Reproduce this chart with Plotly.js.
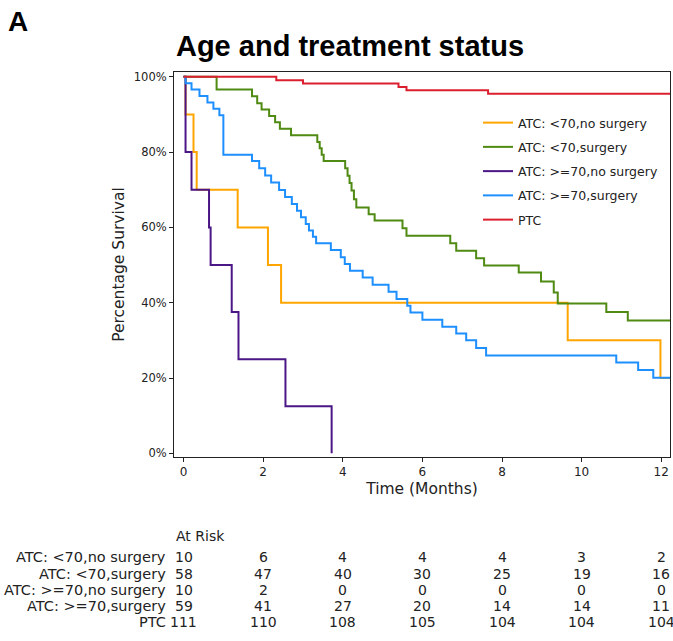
<!DOCTYPE html>
<html>
<head>
<meta charset="utf-8">
<script src="https://cdn.plot.ly/plotly-3.0.1.min.js"></script>
<style>
  html, body { margin: 0; padding: 0; background: #fff; }
  #chart { width: 673px; height: 641px; }
</style>
</head>
<body>
<div id="chart"></div>
<script>
// Kaplan-Meier survival by age and treatment status (months, % surviving)
const groupNames = [
  "ATC: <70,no surgery",
  "ATC: <70,surgery",
  "ATC: >=70,no surgery",
  "ATC: >=70,surgery",
  "PTC"
];
const groupColors = ["#FFA500", "#4F8A12", "#4B1787", "#1E8FFF", "#DC1F2E"];

const timeLt70NoSurg = [0, 0.05, 0.25, 0.33, 1.36, 2.12, 2.45, 9.65, 11.98, 12.5];
const survLt70NoSurg = [100, 90, 80, 70, 60, 50, 40, 30, 20, 20];

const timeLt70Surg = [0, 0.83, 1.72, 1.85, 1.96, 2.15, 2.3, 2.42, 2.7, 3.36, 3.42, 3.47, 3.52,
  4.06, 4.12, 4.17, 4.22, 4.28, 4.34, 4.65, 4.8, 5.5, 5.6, 6.7, 6.85, 7.35, 7.55,
  8.42, 8.98, 9.3, 9.4, 10.62, 11.16, 12.5];
const survLt70Surg = [100, 96.6, 94.8, 93.0, 91.3, 89.6, 87.9, 86.2, 84.5, 82.7, 81.0, 79.3, 77.6,
  75.7, 73.7, 71.8, 69.8, 67.5, 65.3, 63.5, 61.8, 59.8, 57.8, 55.8, 53.8, 51.8, 49.9,
  48.0, 45.6, 42.7, 39.8, 37.5, 35.3, 35.3];

const timeGe70NoSurg = [0, 0.05, 0.2, 0.64, 0.68, 1.21, 1.38, 2.56, 3.72];
const survGe70NoSurg = [100, 80, 70, 60, 50, 37.5, 25, 12.5, 0];

const timeGe70Surg = [0, 0.05, 0.2, 0.4, 0.6, 0.75, 0.9, 1.0, 1.72, 1.9, 2.05, 2.2, 2.4, 2.55,
  2.72, 2.85, 2.95, 3.07, 3.15, 3.25, 3.33, 3.7, 3.95, 4.05, 4.18, 4.5, 4.75, 5.15,
  5.35, 5.62, 5.7, 6.0, 6.5, 6.85, 7.1, 7.35, 7.6, 10.87, 11.42, 11.8, 12.5];
const survGe70Surg = [100, 98.3, 96.6, 94.9, 93.2, 91.5, 89.8, 79.3, 77.6, 75.7, 73.8, 71.9, 69.9, 68.1,
  66.2, 64.4, 62.7, 60.9, 59.2, 57.5, 55.8, 54.0, 52.1, 50.3, 48.5, 46.7, 44.8, 42.9,
  41.0, 39.2, 37.4, 35.5, 33.6, 31.8, 30.0, 28.0, 26.0, 24.1, 22.1, 20.1, 20.1];

const timePTC = [0, 2.33, 3.0, 5.4, 5.6, 7.65, 12.5];
const survPTC = [100, 99.1, 98.2, 97.3, 96.4, 95.5, 95.5];

// Numbers at risk at each tick month
const riskMonths = [0, 2, 4, 6, 8, 10, 12];
const riskLt70NoSurg = [10, 6, 4, 4, 4, 3, 2];
const riskLt70Surg = [58, 47, 40, 30, 25, 19, 16];
const riskGe70NoSurg = [10, 2, 0, 0, 0, 0, 0];
const riskGe70Surg = [59, 41, 27, 20, 14, 14, 11];
const riskPTC = [111, 110, 108, 105, 104, 104, 104];

const xTicks = [0, 2, 4, 6, 8, 10, 12];
const yTicks = [0, 20, 40, 60, 80, 100];
const yTickLabels = ["0%", "20%", "40%", "60%", "80%", "100%"];

const series = [
  [timeLt70NoSurg, survLt70NoSurg],
  [timeLt70Surg, survLt70Surg],
  [timeGe70NoSurg, survGe70NoSurg],
  [timeGe70Surg, survGe70Surg],
  [timePTC, survPTC]
];
const riskRows = [riskLt70NoSurg, riskLt70Surg, riskGe70NoSurg, riskGe70Surg, riskPTC];

const FONT = "DejaVu Sans, Verdana, sans-serif";
const INK = "#222";

const traces = series.map((s, i) => ({
  type: "scatter",
  mode: "lines",
  x: s[0],
  y: s[1],
  name: groupNames[i],
  legendgroup: "g" + i,
  line: { color: groupColors[i], width: 2, shape: "hv" },
  hoverinfo: "x+y+name"
}));

// plot-area geometry (pixels) used for placing the at-risk table below the axes
const M = { l: 174, r: 3, t: 72, b: 184 };
const H = 641;
const plotH = H - M.t - M.b;
const pyPaper = (py) => (H - M.b - py) / plotH;
const pxPaper = (px) => (px - M.l) / (673 - M.l - M.r);

const annotations = [];
annotations.push({
  text: "<b>A</b>", xref: "paper", yref: "paper",
  x: pxPaper(6), y: pyPaper(22), xanchor: "left", yanchor: "middle",
  showarrow: false, font: { family: "Liberation Sans, Arial, sans-serif", size: 28, color: "#000" }
});
annotations.push({
  text: "At Risk", xref: "paper", yref: "paper",
  x: pxPaper(174), y: pyPaper(536), xanchor: "left", yanchor: "middle",
  showarrow: false, font: { family: FONT, size: 14, color: INK }
});
const rowY = [557, 573.5, 590, 606, 622];
riskRows.forEach((row, r) => {
  annotations.push({
    text: groupNames[r], xref: "paper", yref: "paper",
    x: pxPaper(168), y: pyPaper(rowY[r]), xanchor: "right", yanchor: "middle",
    showarrow: false, font: { family: FONT, size: 14.5, color: INK }
  });
  row.forEach((v, c) => {
    annotations.push({
      text: String(v), xref: "x", yref: "paper",
      x: riskMonths[c], y: pyPaper(rowY[r]), xanchor: "center", yanchor: "middle",
      showarrow: false, font: { family: FONT, size: 14, color: INK }
    });
  });
});

const layout = {
  width: 673,
  height: 641,
  margin: M,
  paper_bgcolor: "#fff",
  plot_bgcolor: "#fff",
  showlegend: true,
  title: {
    text: "<b>Age and treatment status</b>",
    x: 350 / 673, xanchor: "center",
    y: 1 - 46 / 641, yanchor: "middle",
    font: { family: "Liberation Sans, Arial, sans-serif", size: 29, color: "#000" }
  },
  xaxis: {
    range: [-0.24, 12.22],
    tickvals: xTicks,
    ticks: "outside", ticklen: 4, tickwidth: 1, tickcolor: INK,
    showline: true, mirror: true, linecolor: INK, linewidth: 1,
    showgrid: false, zeroline: false,
    tickfont: { family: FONT, size: 12, color: INK },
    title: { text: "Time (Months)", font: { family: FONT, size: 15.5, color: INK }, standoff: 4 }
  },
  yaxis: {
    range: [-0.98, 101.27],
    tickvals: yTicks,
    ticktext: yTickLabels,
    ticks: "outside", ticklen: 4, tickwidth: 1, tickcolor: INK,
    showline: true, mirror: true, linecolor: INK, linewidth: 1,
    showgrid: false, zeroline: false,
    tickfont: { family: FONT, size: 11.5, color: INK },
    title: { text: "Percentage Survival", font: { family: FONT, size: 15.5, color: INK }, standoff: 5 }
  },
  legend: {
    x: pxPaper(478), y: pyPaper(108), xanchor: "left", yanchor: "top",
    bgcolor: "rgba(255,255,255,0)", borderwidth: 0,
    font: { family: FONT, size: 12.5, color: INK },
    traceorder: "grouped", tracegroupgap: 5
  },
  annotations: annotations
};

Plotly.newPlot("chart", traces, layout, { displayModeBar: false, staticPlot: true });
</script>
</body>
</html>
